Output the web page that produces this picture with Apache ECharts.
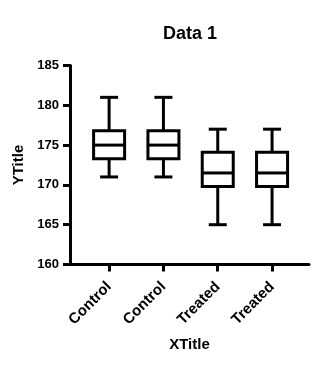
<!DOCTYPE html>
<html>
<head>
<meta charset="utf-8">
<script src="https://cdn.jsdelivr.net/npm/echarts@6/dist/echarts.min.js"></script>
<style>html,body{margin:0;padding:0;background:#fff}#c{width:335px;height:369px}</style>
</head>
<body>
<div id="c"></div>
<script>
var categories = ['Control', 'Control', 'Treated', 'Treated'];
var mins    = [171, 171, 165, 165];
var q1s     = [173.3, 173.3, 169.8, 169.8];
var medians = [175, 175, 171.5, 171.5];
var q3s     = [176.8, 176.8, 174.1, 174.1];
var maxs    = [181, 181, 177, 177];
var yTicks  = [160, 165, 170, 175, 180, 185];

var positions = categories.map(function (c, i) { return i + 1; });
var seriesData = categories.map(function (c, i) {
  return [i + 1, mins[i], q1s[i], medians[i], q3s[i], maxs[i]];
});

var FONT = 'Liberation Sans, Arial, sans-serif';
var BOX_W = 31, CAP_W = 18, LW = 3;

var chart = echarts.init(document.getElementById('c'), null, {renderer: 'canvas'});
chart.setOption({
  animation: false,
  title: {
    text: 'Data 1', left: 163, top: 25, padding: 0,
    textStyle: {fontFamily: FONT, fontWeight: 'bold', fontSize: 18, color: '#000'}
  },
  grid: {left: 70, right: 26, top: 65.5, bottom: 104.5, containLabel: false},
  xAxis: {
    type: 'value', min: 0.28, max: 4.68,
    name: 'XTitle', nameLocation: 'middle', nameGap: 73,
    nameTextStyle: {fontFamily: FONT, fontWeight: 'bold', fontSize: 15, color: '#000'},
    axisLine: {show: true, onZero: false, lineStyle: {color: '#000', width: LW}},
    axisTick: {show: true, length: 7, customValues: positions, lineStyle: {color: '#000', width: LW}},
    axisLabel: {
      customValues: positions, rotate: 45, margin: 20,
      fontFamily: FONT, fontWeight: 'bold', fontSize: 15, color: '#000',
      formatter: function (v) { return categories[Math.round(v) - 1]; }
    },
    splitLine: {show: false}
  },
  yAxis: {
    type: 'value', min: yTicks[0], max: yTicks[yTicks.length - 1], interval: 5,
    name: 'YTitle', nameLocation: 'middle', nameGap: 41, nameRotate: 90,
    nameTextStyle: {fontFamily: FONT, fontWeight: 'bold', fontSize: 15, color: '#000'},
    axisLine: {show: true, lineStyle: {color: '#000', width: LW}},
    axisTick: {show: true, length: 7, lineStyle: {color: '#000', width: LW}},
    axisLabel: {margin: 11, fontFamily: FONT, fontWeight: 'bold', fontSize: 13, color: '#000'},
    splitLine: {show: false}
  },
  series: [{
    type: 'custom',
    data: seriesData,
    encode: {x: 0, y: [1, 2, 3, 4, 5]},
    renderItem: function (params, api) {
      var x = api.value(0);
      var pMin = api.coord([x, api.value(1)]);
      var pQ1 = api.coord([x, api.value(2)]);
      var pMed = api.coord([x, api.value(3)]);
      var pQ3 = api.coord([x, api.value(4)]);
      var pMax = api.coord([x, api.value(5)]);
      var cx = pMed[0];
      var st = {stroke: '#000', lineWidth: LW, fill: null};
      return {
        type: 'group',
        children: [
          {type: 'line', shape: {x1: cx, y1: pMax[1], x2: cx, y2: pQ3[1]}, style: st},
          {type: 'line', shape: {x1: cx, y1: pQ1[1], x2: cx, y2: pMin[1]}, style: st},
          {type: 'line', shape: {x1: cx - CAP_W / 2, y1: pMax[1], x2: cx + CAP_W / 2, y2: pMax[1]}, style: st},
          {type: 'line', shape: {x1: cx - CAP_W / 2, y1: pMin[1], x2: cx + CAP_W / 2, y2: pMin[1]}, style: st},
          {type: 'rect', shape: {x: cx - BOX_W / 2, y: pQ3[1], width: BOX_W, height: pQ1[1] - pQ3[1]}, style: {stroke: '#000', lineWidth: LW, fill: '#fff'}},
          {type: 'line', shape: {x1: cx - BOX_W / 2, y1: pMed[1], x2: cx + BOX_W / 2, y2: pMed[1]}, style: st}
        ]
      };
    }
  }]
});
</script>
</body>
</html>
